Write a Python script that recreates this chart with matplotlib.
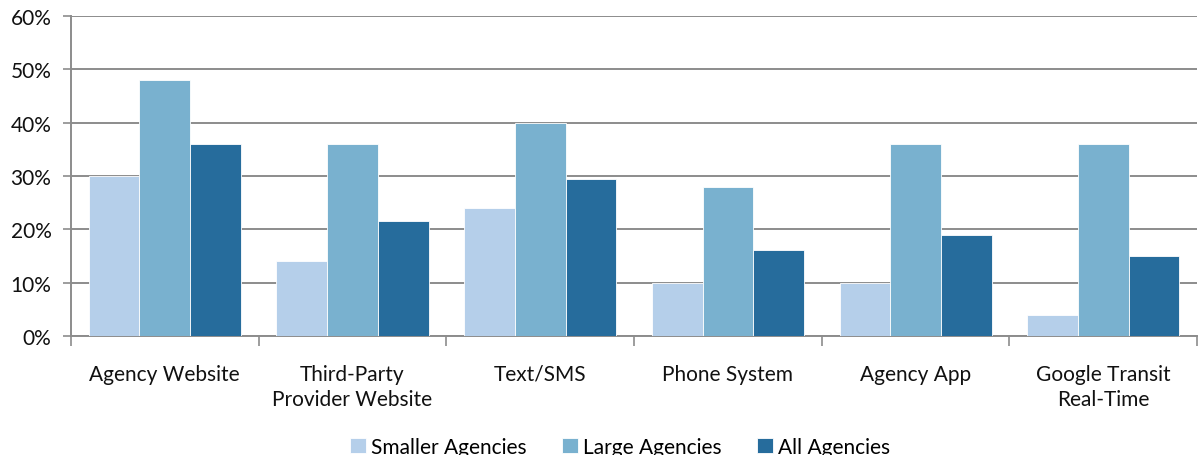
import numpy as np
import matplotlib.pyplot as plt
from matplotlib.ticker import FuncFormatter, FixedLocator

categorias = ['Agency Website', 'Third-Party\nProvider Website', 'Text/SMS',
              'Phone System', 'Agency App', 'Google Transit\nReal-Time']
smaller = [30, 14, 24, 10, 10, 4]
large = [48, 36, 40, 28, 36, 36]
todas = [36, 21.5, 29.5, 16.2, 18.9, 14.9]

series = [('Smaller Agencies', smaller, '#b5cfea'),
          ('Large Agencies', large, '#79b1cf'),
          ('All Agencies', todas, '#266c9c')]

plt.rcParams['font.family'] = ['Lato', 'DejaVu Sans']

fig = plt.figure(figsize=(12.02, 4.56), dpi=100)
ax = fig.add_axes([0.059, 0.261, 0.937, 0.702])

x = np.arange(len(categorias))
ancho = 0.27
for i, (nombre, valores, color) in enumerate(series):
    ax.bar(x + (i - 1) * ancho, valores, ancho, color=color, label=nombre,
           edgecolor='white', linewidth=0.6, zorder=3)

ax.set_xlim(-0.5, len(categorias) - 0.5)
ax.set_ylim(0, 60)
ax.set_yticks(range(0, 61, 10))
ax.yaxis.set_major_formatter(FuncFormatter(lambda v, p: f'{int(v)}%'))
ax.yaxis.grid(True, color='#8c8c8c', linewidth=1.4, zorder=0)

ax.set_xticks(x)
ax.set_xticklabels(categorias, fontsize=15, linespacing=1.35, color='#111111')
ax.tick_params(axis='x', length=0, pad=20)
ax.xaxis.set_minor_locator(FixedLocator(np.arange(-0.5, len(categorias), 1.0)))
ax.tick_params(axis='x', which='minor', length=7, color='#8c8c8c', width=1.2)
ax.tick_params(axis='y', labelsize=15, length=6, color='#8c8c8c', width=1.2, pad=8,
               labelcolor='#111111')

for lado in ['top', 'right']:
    ax.spines[lado].set_visible(False)
for lado in ['left', 'bottom']:
    ax.spines[lado].set_color('#8c8c8c')
    ax.spines[lado].set_linewidth(1.4)

fig.legend(loc='lower center', bbox_to_anchor=(0.516, -0.045), ncol=3, frameon=False,
           fontsize=15, handlelength=0.75, handleheight=0.75, handletextpad=0.25,
           columnspacing=1.7)

fig.savefig('out.png', dpi=100)
